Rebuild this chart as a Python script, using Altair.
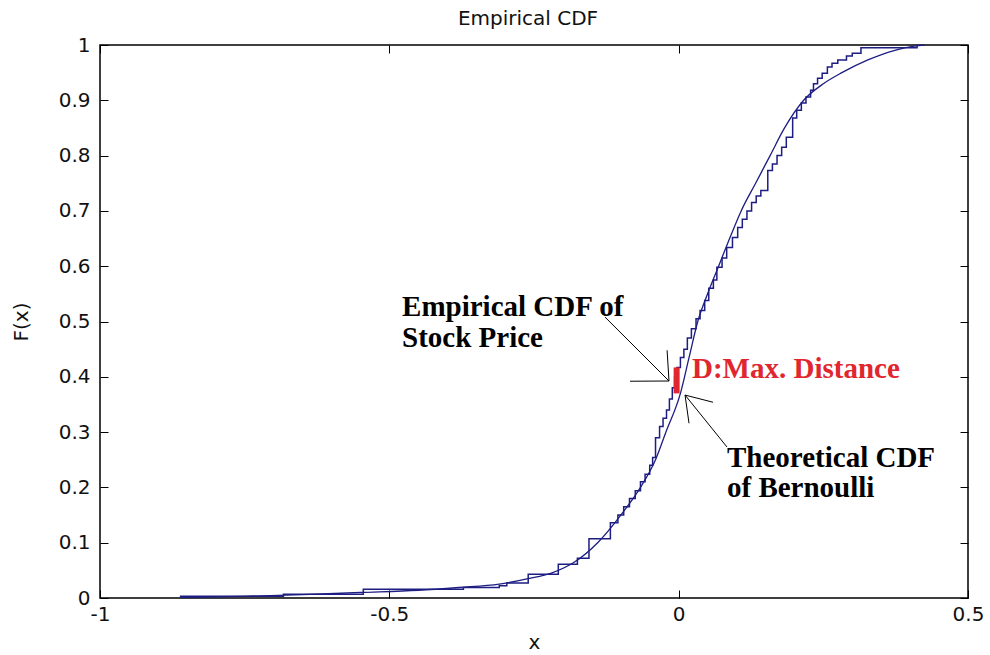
import altair as alt
import pandas as pd

# Theoretical (smooth) CDF
theo_x = [-0.862, -0.75, -0.65, -0.55, -0.45, -0.38, -0.31, -0.26, -0.22, -0.18,
          -0.14, -0.10, -0.066, -0.04, -0.022, 0.003, 0.018, 0.033, 0.05, 0.069,
          0.088, 0.108, 0.133, 0.158, 0.183, 0.216, 0.25, 0.282, 0.327, 0.372, 0.407, 0.425]
theo_y = [0.001, 0.003, 0.006, 0.010, 0.014, 0.019, 0.025, 0.035, 0.045, 0.065,
          0.10, 0.15, 0.20, 0.25, 0.30, 0.37, 0.435, 0.50, 0.55, 0.60,
          0.65, 0.70, 0.75, 0.80, 0.85, 0.90, 0.93, 0.95, 0.973, 0.99, 0.998, 1.0]

# Empirical CDF: jump locations and the level reached after each jump
emp_x = [-0.862, -0.683, -0.545, -0.372, -0.310, -0.297, -0.260, -0.208, -0.175, -0.155,
         -0.118, -0.105, -0.095, -0.085, -0.075, -0.066, -0.058, -0.050, -0.045, -0.040,
         -0.033, -0.027, -0.021, -0.016, -0.011, -0.007, -0.003, 0.003, 0.009, 0.015,
         0.022, 0.030, 0.037, 0.045, 0.052, 0.060, 0.066, 0.075, 0.083, 0.093,
         0.102, 0.110, 0.118, 0.126, 0.134, 0.142, 0.154, 0.162, 0.170, 0.178,
         0.186, 0.197, 0.204, 0.212, 0.220, 0.228, 0.233, 0.240, 0.248, 0.257,
         0.265, 0.275, 0.290, 0.300, 0.315, 0.412]
emp_y = [0.003, 0.007, 0.016, 0.019, 0.022, 0.027, 0.043, 0.061, 0.072, 0.107,
         0.136, 0.150, 0.165, 0.180, 0.194, 0.210, 0.224, 0.240, 0.254, 0.290,
         0.310, 0.325, 0.340, 0.360, 0.380, 0.400, 0.417, 0.435, 0.450, 0.470,
         0.487, 0.505, 0.520, 0.538, 0.560, 0.575, 0.598, 0.615, 0.634, 0.652,
         0.670, 0.685, 0.700, 0.715, 0.727, 0.737, 0.773, 0.785, 0.800, 0.815,
         0.833, 0.868, 0.882, 0.895, 0.906, 0.918, 0.930, 0.940, 0.949, 0.960,
         0.967, 0.973, 0.980, 0.985, 0.995, 1.0]

# Maximum distance D between the two curves
d_x = [-0.0035]
d_lo = [0.370]
d_hi = [0.417]

# Annotation labels
ann_text = ["Empirical CDF of", "Stock Price", "D:Max. Distance", "Theoretical CDF", "of Bernoulli"]
ann_x = [-0.478, -0.478, 0.023, 0.0835, 0.0835]
ann_y = [0.510, 0.454, 0.398, 0.236, 0.182]
ann_color = ["black", "black", "#e0262e", "black", "black"]

# Arrow shafts and barbs (start -> tip)
seg_x1 = [-0.1273, -0.084, -0.020, 0.0835, 0.0594, 0.0179]
seg_y1 = [0.508, 0.392, 0.448, 0.273, 0.354, 0.316]
seg_x2 = [-0.0167, -0.0167, -0.0167, 0.011, 0.011, 0.011]
seg_y2 = [0.3924, 0.3924, 0.3924, 0.367, 0.367, 0.367]

x_ticks = [-1, -0.5, 0, 0.5]
y_ticks = [0, 0.1, 0.2, 0.3, 0.4, 0.5, 0.6, 0.7, 0.8, 0.9, 1]

theo = pd.DataFrame({"x": theo_x, "F": theo_y})
emp = pd.DataFrame({"x": emp_x, "F": emp_y})
dmax = pd.DataFrame({"x": d_x, "lo": d_lo, "hi": d_hi})
ann = pd.DataFrame({"x": ann_x, "y": ann_y, "label": ann_text, "c": ann_color})
segs = pd.DataFrame({"x1": seg_x1, "y1": seg_y1, "x2": seg_x2, "y2": seg_y2})

xs = alt.Scale(domain=[-1, 0.5], nice=False, zero=False)
ys = alt.Scale(domain=[0, 1], nice=False, zero=False)

LINE = "#1d1d82"
tick_style = dict(domain=False, grid=False, tickSize=8, tickColor="black",
                  tickWidth=1, offset=-8, labelFlush=False)
label_style = dict(labelFont="DejaVu Sans", labelFontSize=20, labelColor="#111111",
                   titleFont="DejaVu Sans", titleFontSize=20, titleFontWeight="normal",
                   titleColor="#111111")

ax_bottom = alt.Axis(orient="bottom", values=x_ticks, labelExpr="'' + datum.value",
                     labelPadding=6, titlePadding=8, **tick_style, **label_style)
ax_left = alt.Axis(orient="left", values=y_ticks, labelExpr="'' + datum.value",
                   labelPadding=10, titlePadding=27, **tick_style, **label_style)
ax_top = alt.Axis(orient="top", values=x_ticks, labels=False, title="", **tick_style)
ax_right = alt.Axis(orient="right", values=y_ticks, labels=False, title="", **tick_style)

theo_line = alt.Chart(theo).mark_line(color=LINE, strokeWidth=1.3, interpolate="monotone").encode(
    x=alt.X("x:Q", scale=xs, axis=ax_bottom, title="x"),
    y=alt.Y("F:Q", scale=ys, axis=ax_left, title="F(x)"),
)

emp_line = alt.Chart(emp).mark_line(color=LINE, strokeWidth=1.5, interpolate="step-after").encode(
    x=alt.X("x:Q", scale=xs, axis=ax_top),
    y=alt.Y("F:Q", scale=ys, axis=ax_right),
)

d_rule = alt.Chart(dmax).mark_rule(color="#e0262e", strokeWidth=6).encode(
    x=alt.X("x:Q", scale=xs, axis=None),
    y=alt.Y("lo:Q", scale=ys, axis=None),
    y2="hi:Q",
)

arrows = alt.Chart(segs).mark_rule(color="black", strokeWidth=1).encode(
    x=alt.X("x1:Q", scale=xs, axis=None),
    y=alt.Y("y1:Q", scale=ys, axis=None),
    x2="x2:Q",
    y2="y2:Q",
)

labels = alt.Chart(ann).mark_text(
    align="left", baseline="alphabetic", font="Liberation Serif",
    fontWeight="bold", fontSize=29,
).encode(
    x=alt.X("x:Q", scale=xs, axis=None),
    y=alt.Y("y:Q", scale=ys, axis=None),
    text="label:N",
    color=alt.Color("c:N", scale=None),
)

chart = (
    alt.layer(theo_line, emp_line, d_rule, arrows, labels)
    .resolve_axis(x="independent", y="independent")
    .properties(
        width=868,
        height=553,
        autosize=alt.AutoSizeParams(type="none"),
        padding={"left": 100, "top": 45, "right": 22, "bottom": 57},
        background="white",
        title=alt.TitleParams("Empirical CDF", font="DejaVu Sans", fontSize=20,
                              fontWeight="normal", color="#111111", offset=6, dx=-6),
    )
    .configure_view(stroke="black", strokeWidth=1.5)
)

chart.save("out.html", embed_options={"renderer": "svg", "actions": False})
